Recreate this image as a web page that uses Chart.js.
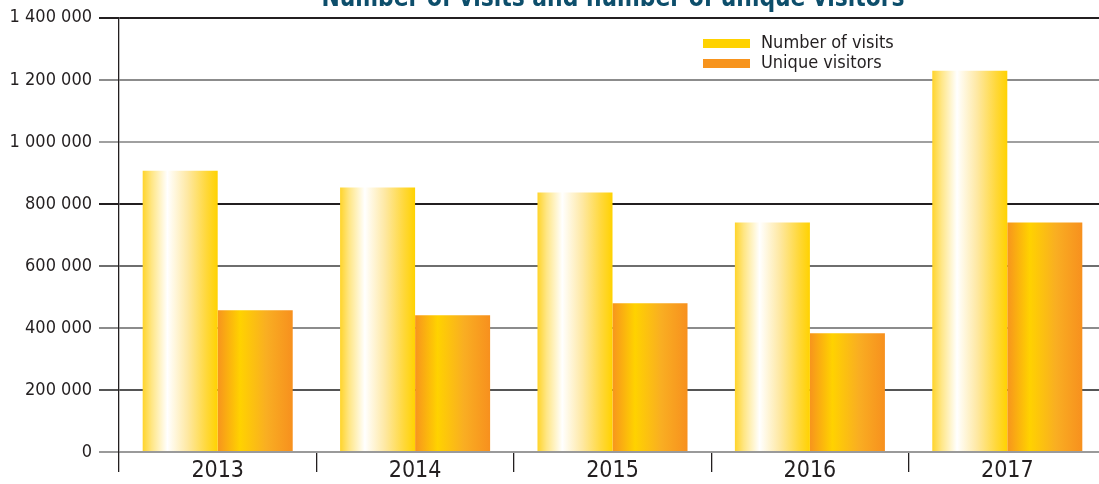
<!DOCTYPE html>
<html>
<head>
<meta charset="utf-8">
<script src="https://cdn.jsdelivr.net/npm/chart.js@4/dist/chart.umd.min.js"></script>
<style>
  html, body { margin: 0; padding: 0; background: #fff; overflow: hidden; }
  #wrap { width: 1099px; height: 484px; overflow: hidden; }
</style>
</head>
<body>
<div id="wrap"><canvas id="visits-chart" width="1106" height="484"></canvas></div>
<script>
// chart data
const years = ['2013', '2014', '2015', '2016', '2017'];
const visits = [907000, 853000, 837000, 740000, 1229000];
const uniqueVisitors = [457000, 441000, 480000, 383000, 740000];
const seriesNames = ['Number of visits', 'Unique visitors'];
const yTicks = [0, 200000, 400000, 600000, 800000, 1000000, 1200000, 1400000];
const chartTitle = 'Number of visits and number of unique visitors';

const FONT = "'Liberation Sans Narrow', 'DejaVu Sans Condensed', sans-serif";
const TEXT = '#231F20';
const legendColors = ['#FFD200', '#F7941D'];

// grid line colours, from 0 upwards
const gridColors = ['#9a9a9a', '#555555', '#8c8c8c', '#6e6e6e', '#231F20', '#a0a0a0', '#8c8c8c', '#231F20'];

function fmt(v) {
  return String(v).replace(/\B(?=(\d{3})+(?!\d))/g, ' ');
}

// horizontal gradient fill for every bar
const barGradients = {
  id: 'barGradients',
  beforeDatasetsDraw(chart) {
    const ctx = chart.ctx;
    chart.data.datasets.forEach((ds, i) => {
      const meta = chart.getDatasetMeta(i);
      meta.data.forEach(el => {
        const p = el.getProps(['x', 'width'], true);
        const x0 = p.x - p.width / 2, x1 = p.x + p.width / 2;
        const g = ctx.createLinearGradient(x0, 0, x1, 0);
        if (i === 0) {
          g.addColorStop(0, '#FFD42A');
          g.addColorStop(0.12, '#FFE684');
          g.addColorStop(0.33, '#FFFFFF');
          g.addColorStop(0.6, '#FEE8A2');
          g.addColorStop(0.85, '#FFD83A');
          g.addColorStop(1, '#FFD200');
        } else {
          g.addColorStop(0, '#F7941D');
          g.addColorStop(0.3, '#FFD200');
          g.addColorStop(0.65, '#F9AE22');
          g.addColorStop(1, '#F7901E');
        }
        // options may be shared and frozen, so give each bar its own copy
        el.options = Object.assign({}, el.options, { backgroundColor: g });
      });
    });
  }
};

// title (cut off at the top) and the legend inside the plot
const extras = {
  id: 'extras',
  afterDraw(chart) {
    const ctx = chart.ctx;
    ctx.save();
    ctx.fillStyle = '#0D4E6B';
    ctx.font = 'bold 26px ' + FONT;
    ctx.textAlign = 'center';
    ctx.textBaseline = 'alphabetic';
    ctx.fillText(chartTitle, 613, 6, 583);

    ctx.font = '18px ' + FONT;
    ctx.textAlign = 'left';
    ctx.textBaseline = 'middle';
    seriesNames.forEach((name, i) => {
      const y = 43 + i * 20;
      ctx.fillStyle = legendColors[i];
      ctx.fillRect(703, y - 4, 47, 9);
      ctx.fillStyle = TEXT;
      ctx.fillText(name, 761, y, 135);
    });
    ctx.restore();
  }
};

const canvas = document.getElementById('visits-chart');
new Chart(canvas.getContext('2d'), {
  type: 'bar',
  data: {
    labels: years,
    datasets: [
      { label: seriesNames[0], data: visits, backgroundColor: legendColors[0] },
      { label: seriesNames[1], data: uniqueVisitors, backgroundColor: legendColors[1] }
    ]
  },
  options: {
    responsive: false,
    animation: false,
    layout: { padding: { top: 17, right: 0, left: 0, bottom: 0 } },
    categoryPercentage: 0.76,
    barPercentage: 1,
    plugins: {
      legend: { display: false },
      tooltip: { enabled: false }
    },
    scales: {
      x: {
        afterFit(scale) { scale.height = 32; },
        grid: {
          offset: true,
          drawOnChartArea: false,
          drawTicks: true,
          tickLength: 20,
          color: TEXT,
          lineWidth: 1.3
        },
        border: { display: false },
        ticks: {
          color: TEXT,
          padding: -15,
          font: { family: FONT, size: 23 }
        }
      },
      y: {
        min: 0,
        max: 1400000,
        afterFit(scale) { scale.width = 119; },
        afterBuildTicks(scale) { scale.ticks = yTicks.map(v => ({ value: v })); },
        grid: {
          tickLength: 20,
          lineWidth: 2,
          color: ctx => gridColors[ctx.index] || '#8c8c8c'
        },
        border: { display: true, color: TEXT, width: 1.3 },
        ticks: {
          color: TEXT,
          padding: 7,
          font: { family: FONT, size: 18 },
          callback: v => fmt(v)
        }
      }
    }
  },
  plugins: [barGradients, extras]
});
</script>
</body>
</html>
